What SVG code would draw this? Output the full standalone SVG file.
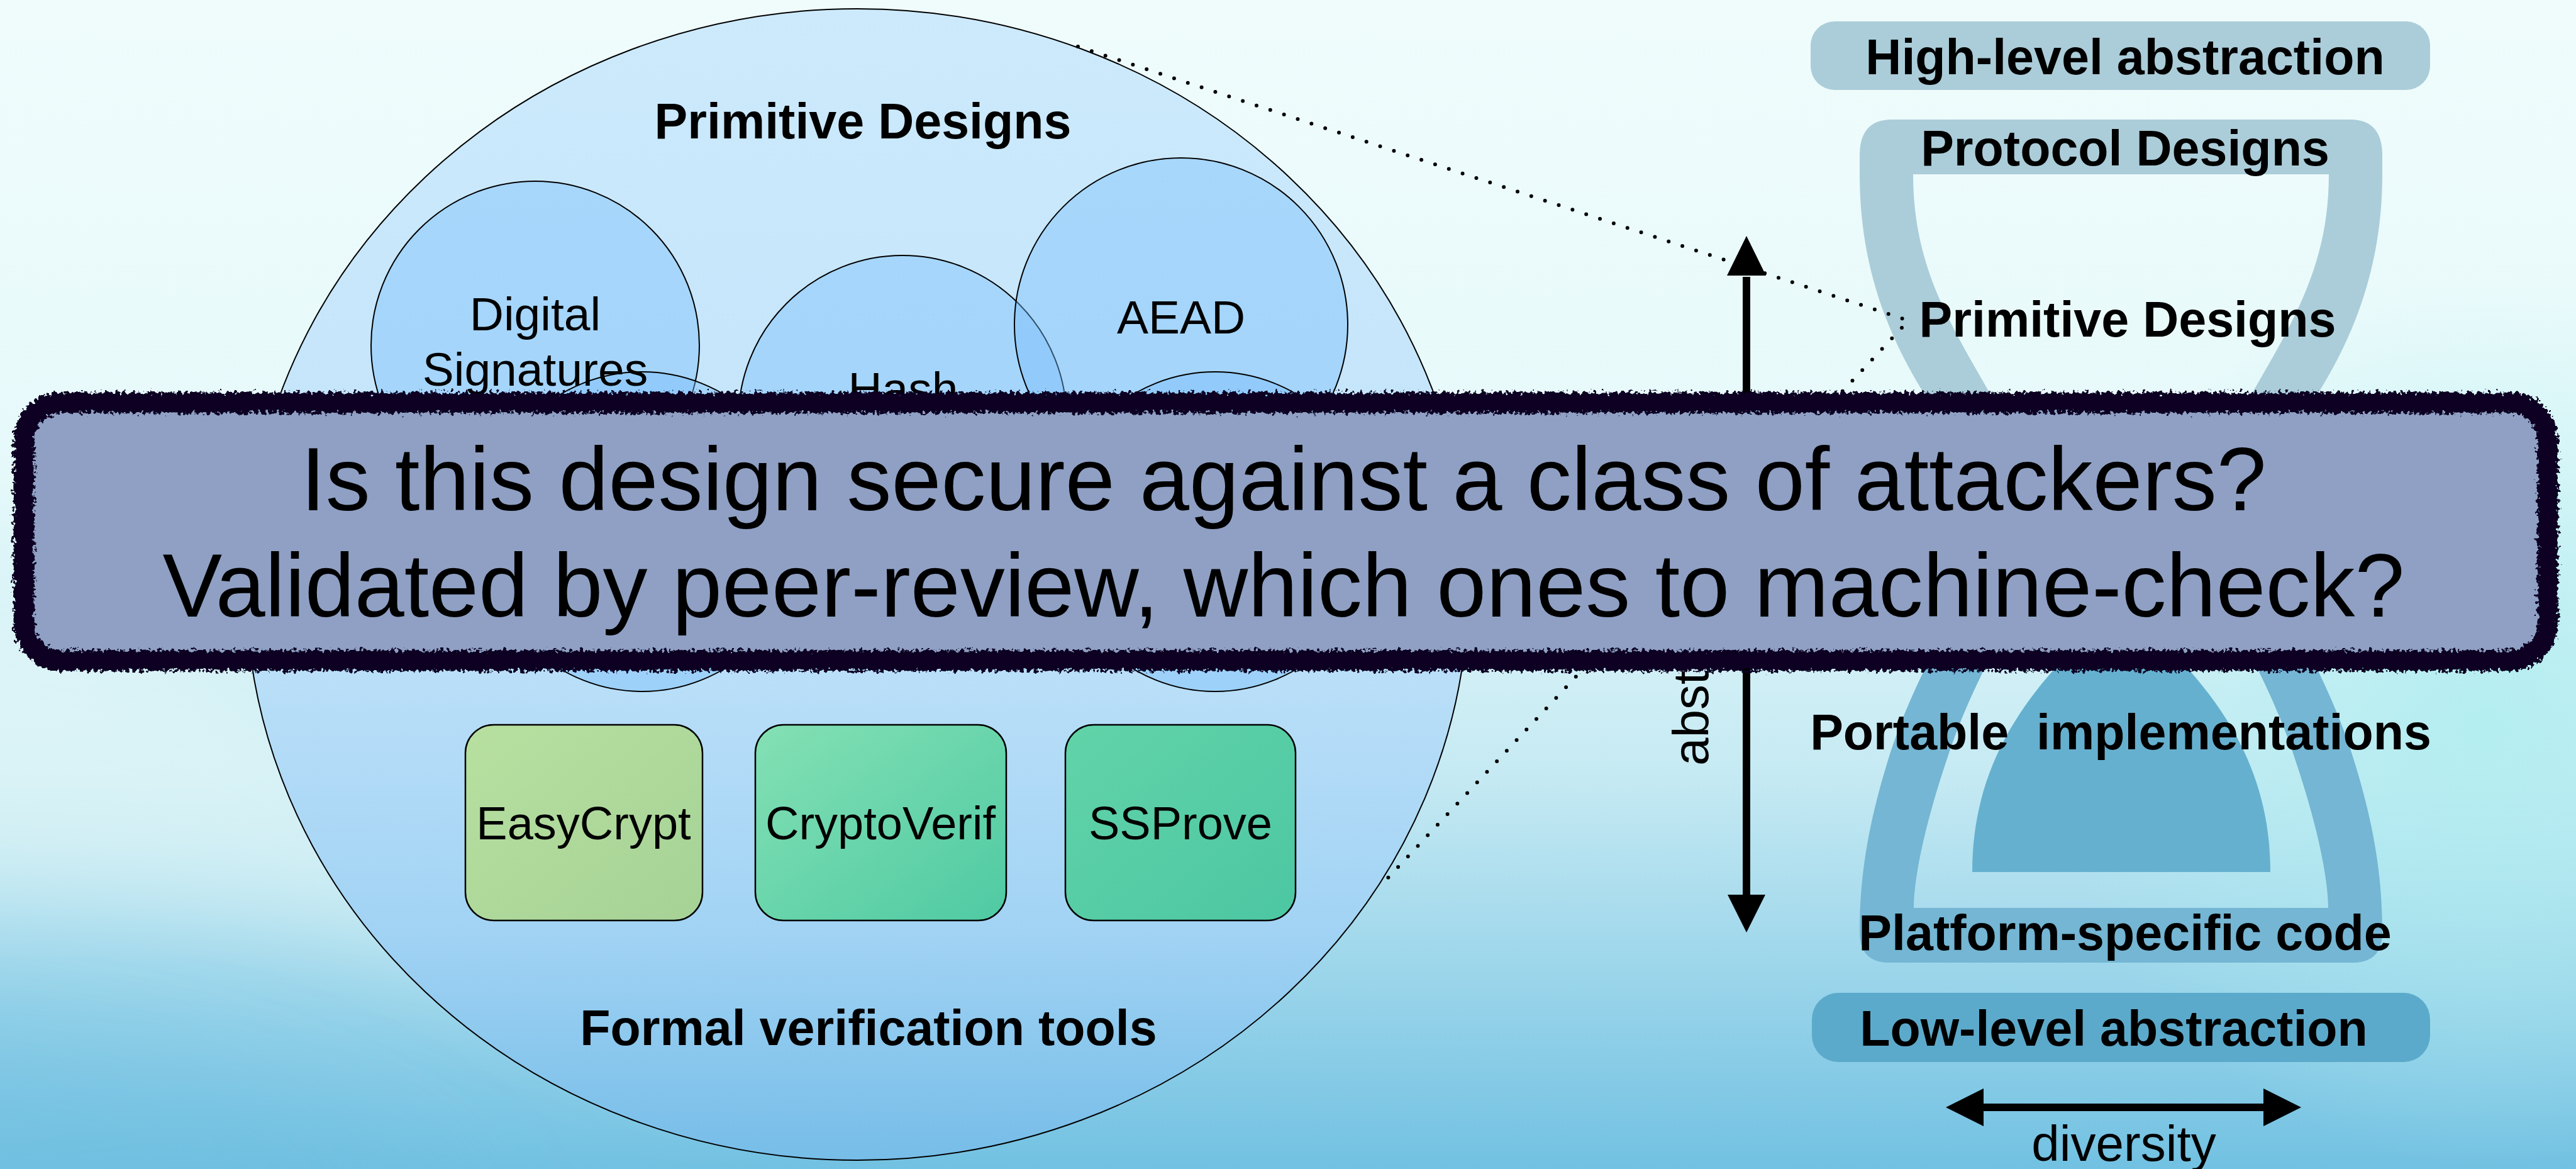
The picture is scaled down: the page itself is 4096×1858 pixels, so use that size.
<svg xmlns="http://www.w3.org/2000/svg" width="4096" height="1858" viewBox="0 0 4096 1858">
  <defs>
    <linearGradient id="bg" x1="0" y1="0" x2="0" y2="1">
      <stop offset="0" stop-color="#f0fcfc"/>
      <stop offset="0.4" stop-color="#e6f9fa"/>
      <stop offset="0.66" stop-color="#c6eaf3"/>
      <stop offset="1" stop-color="#72c1e2"/>
    </linearGradient>
    <radialGradient id="glowR" cx="3950" cy="1150" r="700" gradientUnits="userSpaceOnUse">
      <stop offset="0" stop-color="#b0eef0" stop-opacity="0.85"/>
      <stop offset="1" stop-color="#b0eef0" stop-opacity="0"/>
    </radialGradient>
    <linearGradient id="ell" x1="0" y1="0" x2="0" y2="1">
      <stop offset="0" stop-color="#cdeafc"/>
      <stop offset="0.5" stop-color="#c2e3fa"/>
      <stop offset="0.8" stop-color="#a2d3f4"/>
      <stop offset="1" stop-color="#76bde8"/>
    </linearGradient>
    <linearGradient id="gEasy" x1="0" y1="0" x2="1" y2="1">
      <stop offset="0" stop-color="#b7e0a0"/>
      <stop offset="1" stop-color="#a6d296"/>
    </linearGradient>
    <linearGradient id="gVerif" x1="0" y1="0" x2="1" y2="1">
      <stop offset="0" stop-color="#84e0b4"/>
      <stop offset="1" stop-color="#4fcaa3"/>
    </linearGradient>
    <linearGradient id="gSS" x1="0" y1="0" x2="1" y2="1">
      <stop offset="0" stop-color="#62d3a9"/>
      <stop offset="1" stop-color="#4cc7a2"/>
    </linearGradient>
    <filter id="soft" x="-30%" y="-30%" width="160%" height="160%">
      <feGaussianBlur stdDeviation="80"/>
    </filter>
    <filter id="rough" x="-2%" y="-15%" width="104%" height="130%">
      <feTurbulence type="fractalNoise" baseFrequency="0.18" numOctaves="2" seed="7" result="noise"/>
      <feDisplacementMap in="SourceGraphic" in2="noise" scale="18" xChannelSelector="R" yChannelSelector="G"/>
    </filter>
    <style>
      .lbl { font-family: "Liberation Sans", Arial, sans-serif; fill: #000; text-anchor: middle; }
      .b { font-weight: bold; font-size: 79px; }
      .r { font-size: 75px; }
      .tool { font-size: 74px; }
      .big { font-size: 142px; }
      .circ { fill: #78befa; fill-opacity: 0.42; stroke: #000; stroke-width: 2; }
      .box { stroke: #000; stroke-width: 2.5; }
      .dots { fill: none; stroke: #000; stroke-width: 6; stroke-linecap: round; stroke-dasharray: 0 23; }
      .arrow { fill: none; stroke: #000; stroke-width: 12; }
    </style>
  </defs>

  <!-- background -->
  <rect x="0" y="0" width="4096" height="1858" fill="url(#bg)"/>
  <rect x="0" y="0" width="4096" height="1858" fill="url(#glowR)"/>
  <path d="M-200 950 C 400 1020 800 1250 1150 1560 L 1150 1700 C 750 1480 350 1430 -200 1420 Z" fill="#e6f9f9" fill-opacity="0.6" filter="url(#soft)"/>
  <path d="M-200 1620 C 300 1650 600 1760 800 1950 L -200 1950 Z" fill="#6bbbdf" fill-opacity="0.3" filter="url(#soft)"/>

  <!-- primitive designs region -->
  <g id="primitive-designs">
    <ellipse cx="1363" cy="929" rx="972" ry="915" fill="url(#ell)" stroke="#000" stroke-width="2"/>
    <text class="lbl b" x="1372" y="220">Primitive Designs</text>
  </g>

  <g id="digital-signatures">
    <circle class="circ" cx="851" cy="549" r="261"/>
  </g>
  <g id="hash">
    <circle class="circ" cx="1435" cy="667" r="261"/>
  </g>
  <g id="aead">
    <circle class="circ" cx="1878" cy="516" r="265"/>
  </g>
  <g id="primitive-left">
    <circle class="circ" cx="1021" cy="845" r="254"/>
  </g>
  <g id="primitive-right">
    <circle class="circ" cx="1932" cy="845" r="254"/>
  </g>
  <g id="primitive-labels">
    <text class="lbl r" x="851" y="525">Digital</text>
    <text class="lbl r" x="851" y="613">Signatures</text>
    <text class="lbl r" x="1436" y="644">Hash</text>
    <text class="lbl r" x="1878" y="530">AEAD</text>
  </g>

  <!-- verification tools -->
  <g id="easycrypt">
    <rect class="box" x="740" y="1152" width="377" height="311" rx="45" fill="url(#gEasy)"/>
    <text class="lbl tool" x="928" y="1334">EasyCrypt</text>
  </g>
  <g id="cryptoverif">
    <rect class="box" x="1201" y="1152" width="399" height="311" rx="45" fill="url(#gVerif)"/>
    <text class="lbl tool" x="1400" y="1334">CryptoVerif</text>
  </g>
  <g id="ssprove">
    <rect class="box" x="1694" y="1152" width="366" height="311" rx="45" fill="url(#gSS)"/>
    <text class="lbl tool" x="1877" y="1334">SSProve</text>
  </g>
  <g id="formal-tools-label">
    <text class="lbl b" x="1381" y="1661">Formal verification tools</text>
  </g>

  <!-- abstraction hourglass -->
  <g id="high-level">
    <rect x="2879" y="34" width="985" height="109" rx="38" fill="#abcdd9"/>
    <text class="lbl b" x="3379" y="118">High-level abstraction</text>
  </g>
  <g id="protocol-designs">
    <path fill="#abcdd9" d="M3187 851 C3150 790 3110 710 3059 625 C3000 530 2957 420 2957 277 L2957 247 Q2957 190 3008 190 L3737 190 Q3788 190 3788 247 L3788 277 C3788 420 3745 530 3686 625 C3635 710 3595 790 3558 851 L3460 851 C3500 780 3540 700 3581 625 C3647 510 3703 420 3703 277 L3042 277 C3042 420 3098 510 3164 625 C3205 700 3245 780 3285 851 Z"/>
    <text class="lbl b" x="3379" y="263">Protocol Designs</text>
  </g>
  <g id="platform-code">
    <path fill="#74b6d3" d="M3187 842 C3120 950 3040 1080 3000 1215 C2968 1320 2957 1400 2957 1482 Q2957 1530 3004 1530 L3741 1530 Q3788 1530 3788 1482 C3788 1400 3777 1320 3745 1215 C3705 1080 3625 950 3558 842 L3460 842 C3530 950 3610 1080 3652 1215 C3687 1320 3702 1400 3702 1443 L3043 1443 C3043 1400 3058 1320 3093 1215 C3135 1080 3215 950 3285 842 Z"/>
    <path fill="#66b0cf" d="M3136 1386 C3136 1250 3190 1150 3265 1065 C3310 1010 3345 950 3373 900 C3401 950 3436 1010 3481 1065 C3556 1150 3610 1250 3610 1386 Z"/>
    <text class="lbl b" x="3379" y="1510">Platform-specific code</text>
  </g>
  <g id="primitive-designs-level">
    <text class="lbl b" x="3383" y="535">Primitive Designs</text>
  </g>
  <g id="portable-implementations">
    <text class="lbl b" x="3372" y="1191" xml:space="preserve">Portable  implementations</text>
  </g>
  <g id="low-level">
    <rect x="2881" y="1578" width="983" height="110" rx="42" fill="#5caacb"/>
    <text class="lbl b" x="3361" y="1662">Low-level abstraction</text>
  </g>

  <!-- connectors -->
  <g id="connectors">
    <path class="dots" d="M1714 74 L3030 508"/>
    <path class="dots" d="M3024 521 L2196 1407"/>
    <line class="arrow" x1="2777" y1="440" x2="2777" y2="1422"/>
    <path d="M2777 375 L2808 438 L2746 438 Z" fill="#000"/>
    <path d="M2777 1482 L2807 1422 L2747 1422 Z" fill="#000"/>
    <line class="arrow" x1="3150" y1="1760" x2="3603" y2="1760"/>
    <path d="M3094 1760 L3154 1730 L3154 1790 Z" fill="#000"/>
    <path d="M3659 1760 L3599 1730 L3599 1790 Z" fill="#000"/>
    <text class="lbl" style="font-size:80px" x="3377" y="1845">diversity</text>
    <text class="lbl" style="font-size:80px;text-anchor:start" transform="translate(2716 1217) rotate(-90)" x="0" y="0">abstraction</text>
  </g>

  <!-- question banner -->
  <g id="question-banner">
    <rect x="38" y="640" width="4013" height="410" rx="60" fill="#8fa0c4" stroke="#0a0622" stroke-width="33" filter="url(#rough)"/>
    <text class="lbl big" x="2041" y="811">Is this design secure against a class of attackers?</text>
    <text class="lbl big" x="2041" y="980">Validated by peer-review, which ones to machine-check?</text>
  </g>
</svg>
